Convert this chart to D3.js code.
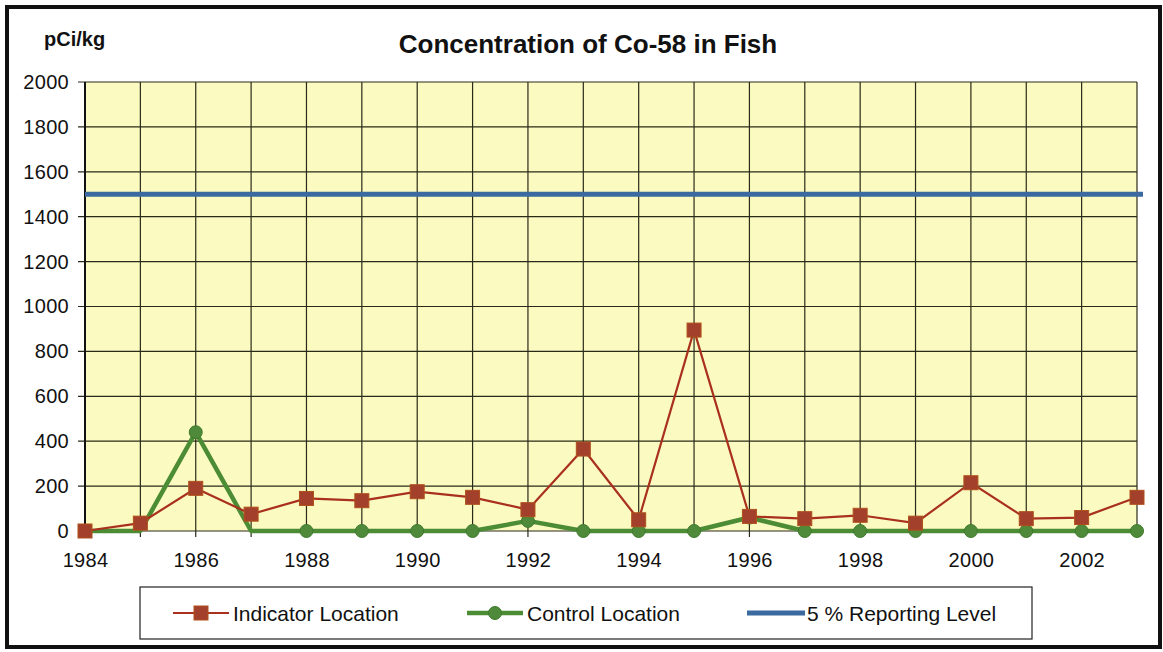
<!DOCTYPE html>
<html lang="en">
<head>
<meta charset="UTF-8" />
<title>Concentration of Co-58 in Fish</title>
<script src="https://d3js.org/d3.v7.min.js"></script>
<style>
  body { margin: 0; background: #fff; }
  text { font-family: "Liberation Sans", Arial, sans-serif; fill: #111; }
</style>
</head>
<body>
<svg id="chart"></svg>
<script>
// data
var years = d3.range(1984, 2004);
var indicator = [0, 35, 190, 75, 145, 135, 175, 150, 95, 365, 50, 895, 65, 55, 70, 35, 215, 55, 60, 150];
var control = [0, 0, 440, 0, 0, 0, 0, 0, 45, 0, 0, 0, 60, 0, 0, 0, 0, 0, 0, 0];
var controlHidden = [1985, 1987]; // no marker drawn in the original
var reportingLevel = 1500;
var yTicks = [0, 200, 400, 600, 800, 1000, 1200, 1400, 1600, 1800, 2000];
var xTicks = [1984, 1986, 1988, 1990, 1992, 1994, 1996, 1998, 2000, 2002];
var seriesNames = ["Indicator Location", "Control Location", "5 % Reporting Level"];

var width = 1163, height = 652;
var margin = { left: 85, right: 26, top: 82, bottom: 121 };

var svg = d3.select("#chart").attr("width", width).attr("height", height);

// outer frame
svg.append("rect")
  .attr("x", 7).attr("y", 7)
  .attr("width", width - 10).attr("height", height - 12)
  .attr("fill", "#fff").attr("stroke", "#111").attr("stroke-width", 4);

var x = d3.scaleLinear().domain([1984, 2003]).range([margin.left, width - margin.right]);
var y = d3.scaleLinear().domain([0, 2000]).range([height - margin.bottom, margin.top]);

// plot background
svg.append("rect")
  .attr("x", x(1984)).attr("y", y(2000))
  .attr("width", x(2003) - x(1984)).attr("height", y(0) - y(2000))
  .attr("fill", "#fbfac0");

// grid
svg.append("g").selectAll("line").data(years).enter().append("line")
  .attr("x1", d => x(d)).attr("x2", d => x(d))
  .attr("y1", y(2000)).attr("y2", y(0) + 6)
  .attr("stroke", "#2a2a1a").attr("stroke-width", 1.2);
svg.append("g").selectAll("line").data(yTicks).enter().append("line")
  .attr("x1", x(1984) - 7).attr("x2", x(2003))
  .attr("y1", d => y(d)).attr("y2", d => y(d))
  .attr("stroke", "#2a2a1a").attr("stroke-width", 1.2);
// left axis line
svg.append("line")
  .attr("x1", x(1984)).attr("x2", x(1984)).attr("y1", y(2000)).attr("y2", y(0))
  .attr("stroke", "#111").attr("stroke-width", 2);

// axes labels
var yAxis = d3.axisLeft(y).tickValues(yTicks).tickSize(0).tickPadding(16).tickFormat(d3.format("d"));
var gy = svg.append("g").attr("transform", `translate(${x(1984)},0)`).call(yAxis);
gy.select(".domain").remove();
gy.selectAll("text").style("font-size", "20px").attr("fill", "#111")
  .style("letter-spacing", "0.3px");

var xAxis = d3.axisBottom(x).tickValues(xTicks).tickSize(0).tickPadding(22).tickFormat(d3.format("d"));
var gx = svg.append("g").attr("transform", `translate(0,${y(0)})`).call(xAxis);
gx.select(".domain").remove();
gx.selectAll("text").style("font-size", "20px").attr("fill", "#111")
  .style("letter-spacing", "0.3px");

// titles
svg.append("text").attr("x", 588).attr("y", 53).attr("text-anchor", "middle")
  .style("font-size", "26px").style("font-weight", "bold")
  .text("Concentration of Co-58 in Fish");
svg.append("text").attr("x", 44).attr("y", 46)
  .style("font-size", "20px").style("font-weight", "bold")
  .text("pCi/kg");

// reporting level
svg.append("line")
  .attr("x1", x(1984)).attr("x2", x(2003) + 6)
  .attr("y1", y(reportingLevel)).attr("y2", y(reportingLevel))
  .attr("stroke", "#3b6aa0").attr("stroke-width", 5);

var line = d3.line().x((d, i) => x(years[i])).y(d => y(d));

// control
svg.append("path").datum(control).attr("d", line)
  .attr("fill", "none").attr("stroke", "#4c8c35").attr("stroke-width", 4.5)
  .attr("stroke-linejoin", "round");
svg.append("g").selectAll("circle")
  .data(control.map((v, i) => ({ year: years[i], v: v })).filter(d => controlHidden.indexOf(d.year) < 0))
  .enter().append("circle")
  .attr("cx", d => x(d.year)).attr("cy", d => y(d.v)).attr("r", 6.5)
  .attr("fill", "#4f8a3a").attr("stroke", "#3f7a2c").attr("stroke-width", 1);

// indicator
svg.append("path").datum(indicator).attr("d", line)
  .attr("fill", "none").attr("stroke", "#a8301c").attr("stroke-width", 2.2);
svg.append("g").selectAll("rect").data(indicator).enter().append("rect")
  .attr("x", (d, i) => x(years[i]) - 7).attr("y", d => y(d) - 7)
  .attr("width", 14).attr("height", 14)
  .attr("fill", "#a3402c").attr("stroke", "#b0501a").attr("stroke-width", 1);

// legend
var legend = svg.append("g");
legend.append("rect").attr("x", 140).attr("y", 587).attr("width", 892).attr("height", 52)
  .attr("fill", "#fff").attr("stroke", "#222").attr("stroke-width", 1.2);

var lx = [173, 467, 747];
var ly = 613;
// indicator entry
legend.append("line").attr("x1", lx[0]).attr("x2", lx[0] + 56).attr("y1", ly).attr("y2", ly)
  .attr("stroke", "#a8301c").attr("stroke-width", 2.2);
legend.append("rect").attr("x", lx[0] + 21).attr("y", ly - 7).attr("width", 14).attr("height", 14)
  .attr("fill", "#a3402c").attr("stroke", "#b0501a");
// control entry
legend.append("line").attr("x1", lx[1]).attr("x2", lx[1] + 56).attr("y1", ly).attr("y2", ly)
  .attr("stroke", "#4c8c35").attr("stroke-width", 4.5);
legend.append("circle").attr("cx", lx[1] + 28).attr("cy", ly).attr("r", 6.5)
  .attr("fill", "#4f8a3a").attr("stroke", "#3f7a2c");
// reporting entry
legend.append("line").attr("x1", lx[2]).attr("x2", lx[2] + 58).attr("y1", ly).attr("y2", ly)
  .attr("stroke", "#3b6aa0").attr("stroke-width", 5);

legend.selectAll("text.lbl").data(seriesNames).enter().append("text")
  .attr("class", "lbl")
  .attr("x", (d, i) => lx[i] + 60).attr("y", ly + 8)
  .style("font-size", "21px").text(d => d);
</script>
</body>
</html>
